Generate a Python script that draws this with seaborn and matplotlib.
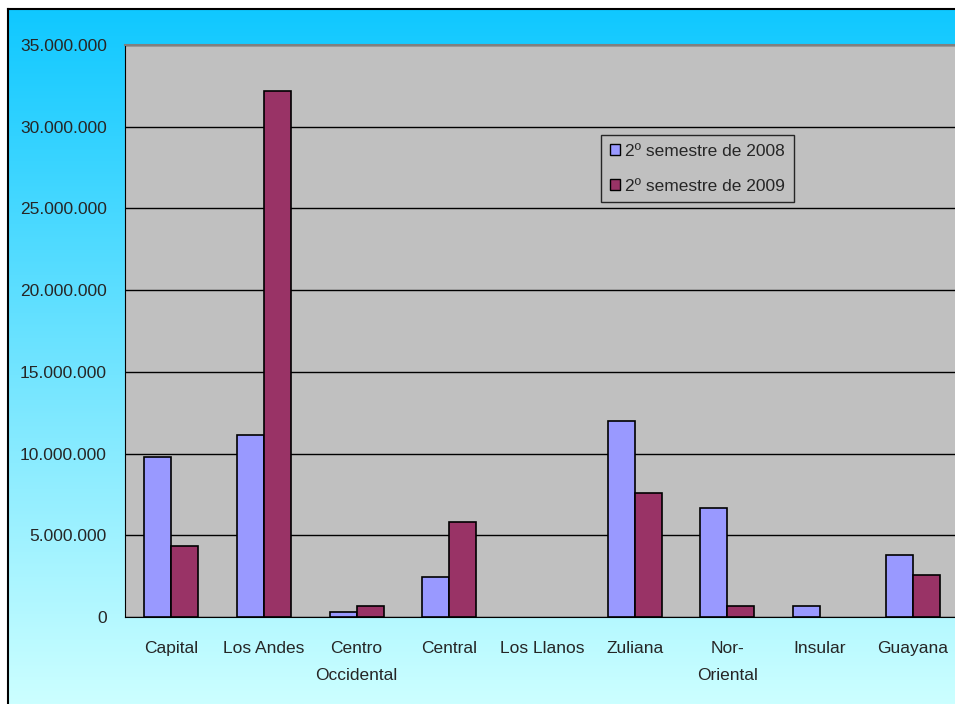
import numpy as np
import pandas as pd
import matplotlib
matplotlib.use("Agg")
import matplotlib.pyplot as plt
import seaborn as sns
from matplotlib.patches import Patch
from matplotlib.ticker import FuncFormatter, MultipleLocator, FixedLocator

regions = ["Capital", "Los Andes", "Centro\nOccidental", "Central", "Los Llanos",
           "Zuliana", "Nor-\nOriental", "Insular", "Guayana"]
sem_2008 = [9790000, 11140000, 310000, 2450000, 0, 11990000, 6670000, 670000, 3790000]
sem_2009 = [4340000, 32190000, 670000, 5810000, 0, 7590000, 670000, 0, 2570000]
series = ["2º semestre de 2008", "2º semestre de 2009"]
colors = ["#9999ff", "#993366"]

df = pd.DataFrame({
    "region": regions * 2,
    "valor": sem_2008 + sem_2009,
    "serie": [series[0]] * len(regions) + [series[1]] * len(regions),
})

sns.set_style("white")
plt.rcParams["font.family"] = ["Liberation Sans", "DejaVu Sans"]

fig = plt.figure(figsize=(9.55, 7.04), dpi=100)
fig.patch.set_facecolor("white")

# gradient background of the chart area
bg = fig.add_axes([8 / 955, 0, 1 - 8 / 955, 1 - 9 / 704])
top = np.array([0x10, 0xc8, 0xff]) / 255
bot = np.array([0xcc, 0xff, 0xff]) / 255
t = np.linspace(0, 1, 256)[:, None]
grad = (top[None, :] * (1 - t) + bot[None, :] * t)[:, None, :]
bg.imshow(grad, aspect="auto", extent=[0, 1, 0, 1])
bg.set_xticks([])
bg.set_yticks([])
for s in ["right", "bottom"]:
    bg.spines[s].set_visible(False)
for s in ["left", "top"]:
    bg.spines[s].set_color("black")
    bg.spines[s].set_linewidth(1.5)

ax = fig.add_axes([125 / 955, 1 - 617 / 704, 834 / 955, 572 / 704])
ax.set_facecolor("#c0c0c0")
sns.barplot(data=df, x="region", y="valor", hue="serie", hue_order=series,
            palette=colors, saturation=1, width=0.58, gap=0,
            edgecolor="black", linewidth=1.2, ax=ax, zorder=3, legend=False)

# hide empty bars (no outline for zero values)
for cont in ax.containers:
    for p in cont:
        if p.get_height() == 0:
            p.set_visible(False)

ax.set_ylim(0, 35000000)
ax.set_xlim(-0.5, len(regions) - 0.5)
ax.yaxis.set_major_locator(MultipleLocator(5000000))
ax.yaxis.set_major_formatter(FuncFormatter(lambda v, p: f"{int(v):,}".replace(",", ".")))
ax.grid(axis="y", color="black", linewidth=1, zorder=0)
ax.set_axisbelow(True)
ax.set_xlabel("")
ax.set_ylabel("")

ax.set_xticks(range(len(regions)))
ax.set_xticklabels(regions, linespacing=2.05, va="top")
ax.xaxis.set_minor_locator(FixedLocator(np.arange(-0.5, len(regions), 1.0)))
ax.tick_params(axis="x", which="major", length=0, pad=17, labelsize=12.5)
ax.tick_params(axis="x", which="minor", length=7, width=1, direction="out", color="black")
ax.tick_params(axis="y", length=6, width=1, direction="out", color="black", pad=7, labelsize=12.5)

ax.spines["top"].set_color("#808080")
ax.spines["top"].set_linewidth(1.5)
ax.spines["right"].set_visible(False)
ax.spines["left"].set_color("black")
ax.spines["bottom"].set_color("black")

handles = [Patch(facecolor=c, edgecolor="black", linewidth=1) for c in colors]
leg = ax.legend(handles, series, loc="upper left",
                bbox_to_anchor=((601 - 125) / 834, (617 - 135) / 572),
                borderaxespad=0, frameon=True, fontsize=12.5, handlelength=0.6,
                handleheight=0.6, handletextpad=0.3, labelspacing=1.15, borderpad=0.5,
                fancybox=False)
leg.get_frame().set_facecolor("#c0c0c0")
leg.get_frame().set_edgecolor("black")
leg.get_frame().set_linewidth(1)

fig.savefig("out.png", dpi=100)
